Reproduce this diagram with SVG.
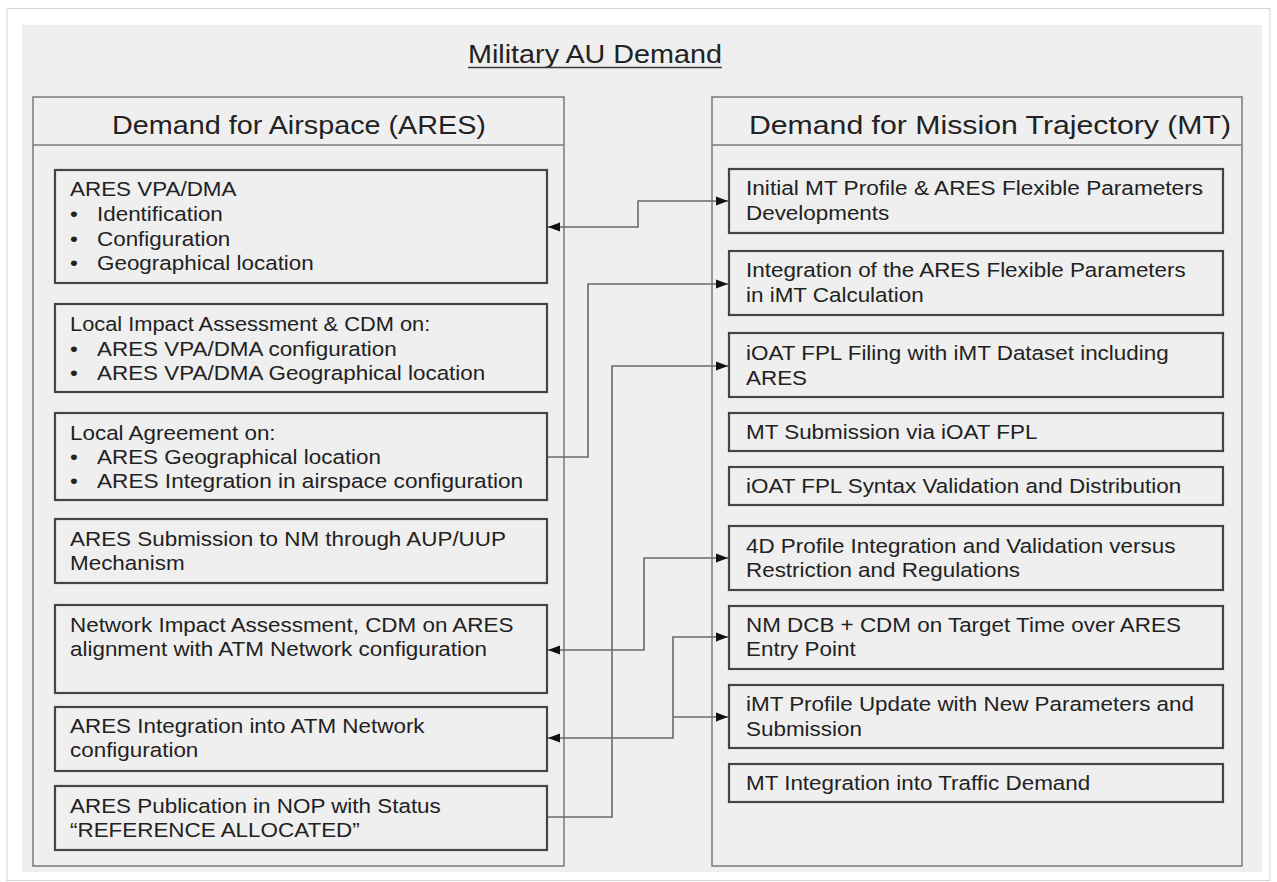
<svg xmlns="http://www.w3.org/2000/svg" width="1277" height="882" viewBox="0 0 1277 882">
  <style>
    .t { font-family: "Liberation Sans", Arial, sans-serif; fill: #222222; }
    .body { font-size: 19.5px; }
    .head { font-size: 25px; }
    .title { font-size: 25px; }
    .panel { fill: none; stroke: #7a7a7a; stroke-width: 1.5; }
    .box { fill: #efefef; stroke: #454545; stroke-width: 2.2; }
    .wire { fill: none; stroke: #6a6a6a; stroke-width: 1.6; }
  </style>
  <defs>
    <marker id="arrow" viewBox="0 0 12 10" refX="12" refY="5" markerWidth="12" markerHeight="10" markerUnits="userSpaceOnUse" orient="auto-start-reverse">
      <path d="M0,0.5 L12,5 L0,9.5 Z" fill="#111"/>
    </marker>
  </defs>

  <!-- page -->
  <rect x="0" y="0" width="1277" height="882" fill="#ffffff"/>
  <rect x="7" y="8.5" width="1263" height="872" fill="none" stroke="#d4d4d4" stroke-width="1"/>
  <rect x="22" y="25" width="1240" height="847" fill="#efefef"/>

  <!-- title -->
  <g id="title">
    <text class="t title" text-anchor="middle" transform="matrix(1.15 0 0 1 595 63)">Military AU Demand</text>
    <line x1="468" y1="67.5" x2="722" y2="67.5" stroke="#3a3a3a" stroke-width="1.5"/>
  </g>

  <!-- left column -->
  <g id="panel-ares">
    <rect class="panel" x="33" y="97" width="531" height="769"/>
    <line class="panel" x1="33" y1="145" x2="564" y2="145"/>
    <text class="t head" text-anchor="middle" transform="matrix(1.15 0 0 1 299 134)">Demand for Airspace (ARES)</text>
  </g>

  <g id="ares-vpa-dma">
    <rect class="box" x="55" y="170" width="492" height="113"/>
    <text class="t body" transform="matrix(1.15 0 0 1 70 196)">ARES VPA/DMA</text>
    <text class="t body" transform="matrix(1.15 0 0 1 70 221)">•</text>
    <text class="t body" transform="matrix(1.15 0 0 1 97 221)">Identification</text>
    <text class="t body" transform="matrix(1.15 0 0 1 70 246)">•</text>
    <text class="t body" transform="matrix(1.15 0 0 1 97 246)">Configuration</text>
    <text class="t body" transform="matrix(1.15 0 0 1 70 270)">•</text>
    <text class="t body" transform="matrix(1.15 0 0 1 97 270)">Geographical location</text>
  </g>

  <g id="local-impact">
    <rect class="box" x="55" y="304" width="492" height="88"/>
    <text class="t body" transform="matrix(1.12 0 0 1 70 331)">Local Impact Assessment &amp; CDM on:</text>
    <text class="t body" transform="matrix(1.15 0 0 1 70 356)">•</text>
    <text class="t body" transform="matrix(1.15 0 0 1 97 356)">ARES VPA/DMA configuration</text>
    <text class="t body" transform="matrix(1.15 0 0 1 70 380)">•</text>
    <text class="t body" transform="matrix(1.15 0 0 1 97 380)">ARES VPA/DMA Geographical location</text>
  </g>

  <g id="local-agreement">
    <rect class="box" x="55" y="413" width="492" height="87"/>
    <text class="t body" transform="matrix(1.15 0 0 1 70 440)">Local Agreement on:</text>
    <text class="t body" transform="matrix(1.15 0 0 1 70 464)">•</text>
    <text class="t body" transform="matrix(1.15 0 0 1 97 464)">ARES Geographical location</text>
    <text class="t body" transform="matrix(1.15 0 0 1 70 488)">•</text>
    <text class="t body" transform="matrix(1.16 0 0 1 97 488)">ARES Integration in airspace configuration</text>
  </g>

  <g id="ares-submission">
    <rect class="box" x="55" y="519" width="492" height="64"/>
    <text class="t body" transform="matrix(1.15 0 0 1 70 546)">ARES Submission to NM through AUP/UUP</text>
    <text class="t body" transform="matrix(1.15 0 0 1 70 570)">Mechanism</text>
  </g>

  <g id="network-impact">
    <rect class="box" x="55" y="605" width="492" height="88"/>
    <text class="t body" transform="matrix(1.15 0 0 1 70 632)">Network Impact Assessment, CDM on ARES</text>
    <text class="t body" transform="matrix(1.15 0 0 1 70 656)">alignment with ATM Network configuration</text>
  </g>

  <g id="ares-integration">
    <rect class="box" x="55" y="707" width="492" height="64"/>
    <text class="t body" transform="matrix(1.15 0 0 1 70 733)">ARES Integration into ATM Network</text>
    <text class="t body" transform="matrix(1.15 0 0 1 70 757)">configuration</text>
  </g>

  <g id="ares-publication">
    <rect class="box" x="55" y="786" width="492" height="64"/>
    <text class="t body" transform="matrix(1.15 0 0 1 70 813)">ARES Publication in NOP with Status</text>
    <text class="t body" transform="matrix(1.15 0 0 1 70 837)">“REFERENCE ALLOCATED”</text>
  </g>

  <!-- right column -->
  <g id="panel-mt">
    <rect class="panel" x="712" y="97" width="530" height="769"/>
    <line class="panel" x1="712" y1="145" x2="1242" y2="145"/>
    <text class="t head" text-anchor="middle" transform="matrix(1.21 0 0 1 990 134)">Demand for Mission Trajectory (MT)</text>
  </g>

  <g id="initial-mt">
    <rect class="box" x="729" y="169" width="494" height="64"/>
    <text class="t body" transform="matrix(1.16 0 0 1 746 195)">Initial MT Profile &amp; ARES Flexible Parameters</text>
    <text class="t body" transform="matrix(1.15 0 0 1 746 220)">Developments</text>
  </g>

  <g id="flex-params">
    <rect class="box" x="729" y="251" width="494" height="64"/>
    <text class="t body" transform="matrix(1.15 0 0 1 746 277)">Integration of the ARES Flexible Parameters</text>
    <text class="t body" transform="matrix(1.15 0 0 1 746 302)">in iMT Calculation</text>
  </g>

  <g id="ioat-filing">
    <rect class="box" x="729" y="333" width="494" height="64"/>
    <text class="t body" transform="matrix(1.15 0 0 1 746 360)">iOAT FPL Filing with iMT Dataset including</text>
    <text class="t body" transform="matrix(1.15 0 0 1 746 385)">ARES</text>
  </g>

  <g id="mt-submission">
    <rect class="box" x="729" y="413" width="494" height="38"/>
    <text class="t body" transform="matrix(1.15 0 0 1 746 439)">MT Submission via iOAT FPL</text>
  </g>

  <g id="syntax-validation">
    <rect class="box" x="729" y="467" width="494" height="38"/>
    <text class="t body" transform="matrix(1.15 0 0 1 746 493)">iOAT FPL Syntax Validation and Distribution</text>
  </g>

  <g id="profile-4d">
    <rect class="box" x="729" y="526" width="494" height="64"/>
    <text class="t body" transform="matrix(1.15 0 0 1 746 553)">4D Profile Integration and Validation versus</text>
    <text class="t body" transform="matrix(1.15 0 0 1 746 577)">Restriction and Regulations</text>
  </g>

  <g id="nm-dcb">
    <rect class="box" x="729" y="606" width="494" height="63"/>
    <text class="t body" transform="matrix(1.15 0 0 1 746 632)">NM DCB + CDM on Target Time over ARES</text>
    <text class="t body" transform="matrix(1.15 0 0 1 746 656)">Entry Point</text>
  </g>

  <g id="imt-update">
    <rect class="box" x="729" y="685" width="494" height="63"/>
    <text class="t body" transform="matrix(1.15 0 0 1 746 711)">iMT Profile Update with New Parameters and</text>
    <text class="t body" transform="matrix(1.15 0 0 1 746 736)">Submission</text>
  </g>

  <g id="traffic-demand">
    <rect class="box" x="729" y="764" width="494" height="38"/>
    <text class="t body" transform="matrix(1.15 0 0 1 746 790)">MT Integration into Traffic Demand</text>
  </g>

  <!-- connectors -->
  <g id="connectors">
    <path class="wire" d="M548,227 H638 V201 H728" marker-start="url(#arrow)" marker-end="url(#arrow)"/>
    <path class="wire" d="M548,457 H588 V284 H728" marker-end="url(#arrow)"/>
    <path class="wire" d="M548,817 H612 V366 H728" marker-end="url(#arrow)"/>
    <path class="wire" d="M728,558 H644 V650 H548" marker-start="url(#arrow)" marker-end="url(#arrow)"/>
    <path class="wire" d="M548,738 H673 V637 H728" marker-start="url(#arrow)" marker-end="url(#arrow)"/>
    <path class="wire" d="M673,717 H728" marker-end="url(#arrow)"/>
  </g>
</svg>
